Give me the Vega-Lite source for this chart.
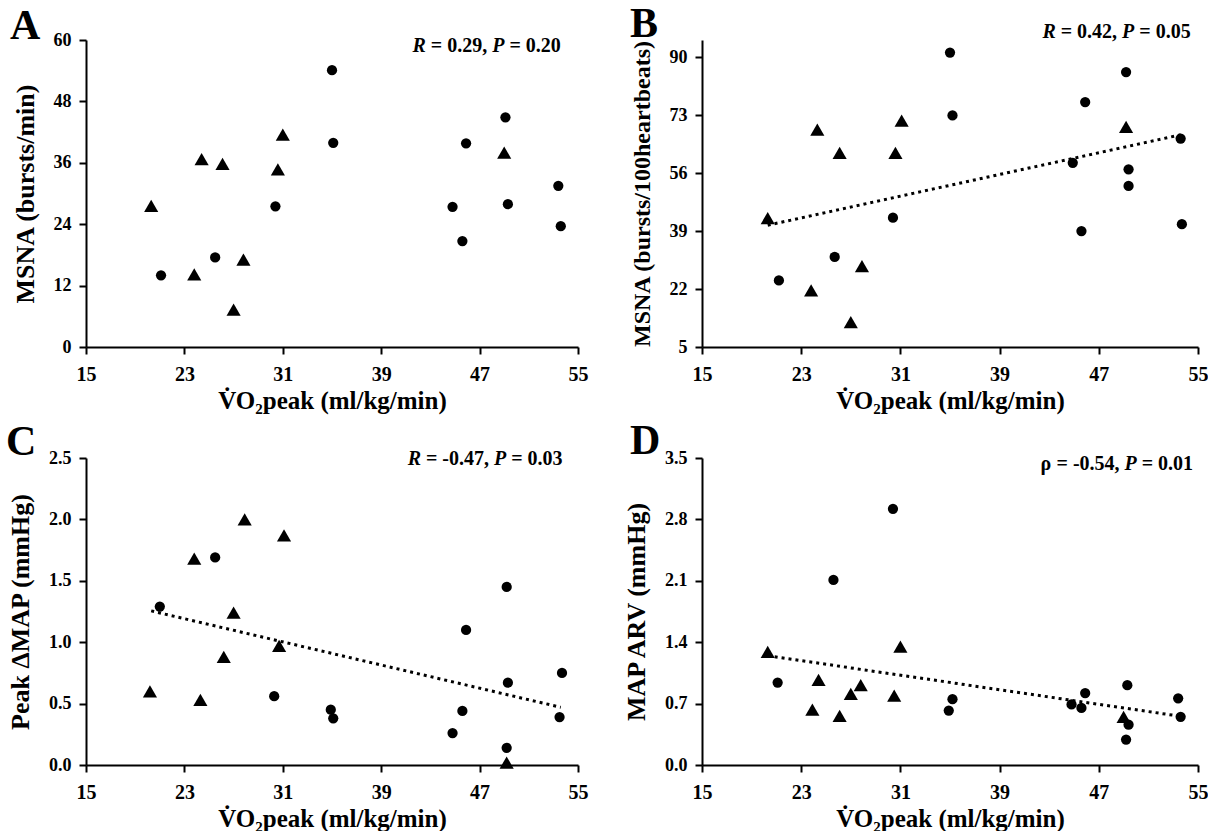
{
  "$schema": "https://vega.github.io/schema/vega-lite/v6.json",
  "background": "white",
  "padding": {"left": 6, "top": 2, "right": 0, "bottom": 0},
  "config": {
    "font": "Liberation Serif",
    "view": {"stroke": null},
    "axis": {"domainColor": "black", "domainWidth": 2, "tickColor": "black", "tickWidth": 2, "tickSize": 7, "grid": false,
      "labelFont": "Liberation Serif", "labelFontWeight": "bold", "labelColor": "black",
      "titleFont": "Liberation Serif", "titleFontWeight": "bold", "titleColor": "black",
      "labelFlush": false, "labelOverlap": false},
    "axisX": {"labelFontSize": 20, "titleFontSize": 25, "labelPadding": 10, "titlePadding": 4},
    "axisY": {"labelFontSize": 18, "titleFontSize": 26, "labelPadding": 8, "titlePadding": 15},
    "title": {"font": "Liberation Serif", "fontSize": 42, "fontWeight": "bold", "anchor": "start", "frame": "group", "baseline": "alphabetic", "color": "black"}
  },
  "datasets": {
    "pts": [
      {"panel": "A", "grp": "Group 1", "vo2": 35.0, "value": 54.1},
      {"panel": "A", "grp": "Group 1", "vo2": 35.1, "value": 39.9},
      {"panel": "A", "grp": "Group 1", "vo2": 30.4, "value": 27.5},
      {"panel": "A", "grp": "Group 1", "vo2": 21.1, "value": 14.0},
      {"panel": "A", "grp": "Group 1", "vo2": 25.5, "value": 17.5},
      {"panel": "A", "grp": "Group 1", "vo2": 44.8, "value": 27.4},
      {"panel": "A", "grp": "Group 1", "vo2": 45.6, "value": 20.7},
      {"panel": "A", "grp": "Group 1", "vo2": 45.9, "value": 39.8},
      {"panel": "A", "grp": "Group 1", "vo2": 49.1, "value": 44.9},
      {"panel": "A", "grp": "Group 1", "vo2": 49.3, "value": 27.9},
      {"panel": "A", "grp": "Group 1", "vo2": 53.4, "value": 31.5},
      {"panel": "A", "grp": "Group 1", "vo2": 53.6, "value": 23.6},
      {"panel": "A", "grp": "Group 2", "vo2": 20.3, "value": 27.6},
      {"panel": "A", "grp": "Group 2", "vo2": 23.8, "value": 14.2},
      {"panel": "A", "grp": "Group 2", "vo2": 24.4, "value": 36.7},
      {"panel": "A", "grp": "Group 2", "vo2": 26.1, "value": 35.8},
      {"panel": "A", "grp": "Group 2", "vo2": 27.0, "value": 7.3},
      {"panel": "A", "grp": "Group 2", "vo2": 27.8, "value": 17.1},
      {"panel": "A", "grp": "Group 2", "vo2": 30.6, "value": 34.7},
      {"panel": "A", "grp": "Group 2", "vo2": 31.0, "value": 41.5},
      {"panel": "A", "grp": "Group 2", "vo2": 49.0, "value": 38.0},

      {"panel": "B", "grp": "Group 1", "vo2": 35.0, "value": 91.3},
      {"panel": "B", "grp": "Group 1", "vo2": 35.2, "value": 72.9},
      {"panel": "B", "grp": "Group 1", "vo2": 30.4, "value": 42.9},
      {"panel": "B", "grp": "Group 1", "vo2": 21.2, "value": 24.5},
      {"panel": "B", "grp": "Group 1", "vo2": 25.7, "value": 31.4},
      {"panel": "B", "grp": "Group 1", "vo2": 44.9, "value": 59.0},
      {"panel": "B", "grp": "Group 1", "vo2": 45.6, "value": 39.0},
      {"panel": "B", "grp": "Group 1", "vo2": 45.9, "value": 76.8},
      {"panel": "B", "grp": "Group 1", "vo2": 49.2, "value": 85.6},
      {"panel": "B", "grp": "Group 1", "vo2": 49.4, "value": 57.1},
      {"panel": "B", "grp": "Group 1", "vo2": 49.4, "value": 52.2},
      {"panel": "B", "grp": "Group 1", "vo2": 53.6, "value": 66.1},
      {"panel": "B", "grp": "Group 1", "vo2": 53.7, "value": 41.0},
      {"panel": "B", "grp": "Group 2", "vo2": 20.3, "value": 42.8},
      {"panel": "B", "grp": "Group 2", "vo2": 23.8, "value": 21.6},
      {"panel": "B", "grp": "Group 2", "vo2": 24.3, "value": 68.7},
      {"panel": "B", "grp": "Group 2", "vo2": 26.1, "value": 61.9},
      {"panel": "B", "grp": "Group 2", "vo2": 27.0, "value": 12.3},
      {"panel": "B", "grp": "Group 2", "vo2": 27.9, "value": 28.7},
      {"panel": "B", "grp": "Group 2", "vo2": 30.6, "value": 61.9},
      {"panel": "B", "grp": "Group 2", "vo2": 31.1, "value": 71.4},
      {"panel": "B", "grp": "Group 2", "vo2": 49.2, "value": 69.5},

      {"panel": "C", "grp": "Group 1", "vo2": 21.0, "value": 1.29},
      {"panel": "C", "grp": "Group 1", "vo2": 25.5, "value": 1.69},
      {"panel": "C", "grp": "Group 1", "vo2": 30.3, "value": 0.56},
      {"panel": "C", "grp": "Group 1", "vo2": 34.9, "value": 0.45},
      {"panel": "C", "grp": "Group 1", "vo2": 35.1, "value": 0.38},
      {"panel": "C", "grp": "Group 1", "vo2": 44.8, "value": 0.26},
      {"panel": "C", "grp": "Group 1", "vo2": 45.6, "value": 0.44},
      {"panel": "C", "grp": "Group 1", "vo2": 45.9, "value": 1.10},
      {"panel": "C", "grp": "Group 1", "vo2": 49.2, "value": 1.45},
      {"panel": "C", "grp": "Group 1", "vo2": 49.3, "value": 0.67},
      {"panel": "C", "grp": "Group 1", "vo2": 49.2, "value": 0.14},
      {"panel": "C", "grp": "Group 1", "vo2": 53.7, "value": 0.75},
      {"panel": "C", "grp": "Group 1", "vo2": 53.5, "value": 0.39},
      {"panel": "C", "grp": "Group 2", "vo2": 20.2, "value": 0.60},
      {"panel": "C", "grp": "Group 2", "vo2": 23.8, "value": 1.68},
      {"panel": "C", "grp": "Group 2", "vo2": 24.3, "value": 0.53},
      {"panel": "C", "grp": "Group 2", "vo2": 26.2, "value": 0.88},
      {"panel": "C", "grp": "Group 2", "vo2": 27.0, "value": 1.24},
      {"panel": "C", "grp": "Group 2", "vo2": 27.9, "value": 2.00},
      {"panel": "C", "grp": "Group 2", "vo2": 30.7, "value": 0.97},
      {"panel": "C", "grp": "Group 2", "vo2": 31.1, "value": 1.87},
      {"panel": "C", "grp": "Group 2", "vo2": 49.2, "value": 0.02},

      {"panel": "D", "grp": "Group 1", "vo2": 30.4, "value": 2.92},
      {"panel": "D", "grp": "Group 1", "vo2": 25.6, "value": 2.11},
      {"panel": "D", "grp": "Group 1", "vo2": 21.1, "value": 0.94},
      {"panel": "D", "grp": "Group 1", "vo2": 35.2, "value": 0.75},
      {"panel": "D", "grp": "Group 1", "vo2": 34.9, "value": 0.62},
      {"panel": "D", "grp": "Group 1", "vo2": 44.8, "value": 0.69},
      {"panel": "D", "grp": "Group 1", "vo2": 45.6, "value": 0.65},
      {"panel": "D", "grp": "Group 1", "vo2": 45.9, "value": 0.82},
      {"panel": "D", "grp": "Group 1", "vo2": 49.3, "value": 0.91},
      {"panel": "D", "grp": "Group 1", "vo2": 49.4, "value": 0.46},
      {"panel": "D", "grp": "Group 1", "vo2": 49.2, "value": 0.29},
      {"panel": "D", "grp": "Group 1", "vo2": 53.4, "value": 0.76},
      {"panel": "D", "grp": "Group 1", "vo2": 53.6, "value": 0.55},
      {"panel": "D", "grp": "Group 2", "vo2": 20.3, "value": 1.29},
      {"panel": "D", "grp": "Group 2", "vo2": 23.9, "value": 0.63},
      {"panel": "D", "grp": "Group 2", "vo2": 24.4, "value": 0.97},
      {"panel": "D", "grp": "Group 2", "vo2": 26.1, "value": 0.56},
      {"panel": "D", "grp": "Group 2", "vo2": 27.0, "value": 0.81},
      {"panel": "D", "grp": "Group 2", "vo2": 27.8, "value": 0.91},
      {"panel": "D", "grp": "Group 2", "vo2": 30.5, "value": 0.79},
      {"panel": "D", "grp": "Group 2", "vo2": 31.0, "value": 1.35},
      {"panel": "D", "grp": "Group 2", "vo2": 49.0, "value": 0.55}
    ],
    "trend": [
      {"panel": "B", "vo2": 20.3, "value": 40.7},
      {"panel": "B", "vo2": 53.6, "value": 67.2},
      {"panel": "C", "vo2": 20.3, "value": 1.255},
      {"panel": "C", "vo2": 53.6, "value": 0.47},
      {"panel": "D", "vo2": 20.3, "value": 1.246},
      {"panel": "D", "vo2": 53.6, "value": 0.555}
    ]
  },
  "columns": 2,
  "spacing": {"row": 111, "column": 124},
  "bounds": "flush",
  "align": "each",
  "concat": [
    {
      "width": 492, "height": 307,
      "title": {"text": "A", "dx": -76, "offset": -17},
      "layer": [
        {"data": {"name": "pts"}, "transform": [{"filter": "datum.panel === 'A' && datum.grp === 'Group 1'"}],
         "mark": {"type": "point", "shape": "circle", "filled": true, "size": 105, "color": "black", "opacity": 1},
         "encoding": {
           "x": {"field": "vo2", "type": "quantitative", "scale": {"domain": [15, 55], "nice": false, "zero": false}, "axis": {"values": [15, 23, 31, 39, 47, 55], "title": "V̇O₂peak (ml/kg/min)"}},
           "y": {"field": "value", "type": "quantitative", "scale": {"domain": [0, 60], "nice": false}, "axis": {"values": [0, 12, 24, 36, 48, 60], "title": "MSNA (bursts/min)"}}}},
        {"data": {"name": "pts"}, "transform": [{"filter": "datum.panel === 'A' && datum.grp === 'Group 2'"}],
         "mark": {"type": "point", "shape": "triangle-up", "filled": true, "size": 200, "color": "black", "opacity": 1},
         "encoding": {"x": {"field": "vo2", "type": "quantitative"}, "y": {"field": "value", "type": "quantitative"}}},
        {"data": {"values": [{}]}, "mark": {"type": "text", "text": "R", "fontSize": 20, "fontWeight": "bold", "fontStyle": "italic", "align": "left", "baseline": "alphabetic", "color": "black", "dx": 0},
         "encoding": {"x": {"datum": 41.55, "type": "quantitative"}, "y": {"datum": 57.59, "type": "quantitative"}}},
        {"data": {"values": [{}]}, "mark": {"type": "text", "text": "= 0.29,", "fontSize": 20, "fontWeight": "bold", "align": "left", "baseline": "alphabetic", "color": "black", "dx": 18.3},
         "encoding": {"x": {"datum": 41.55, "type": "quantitative"}, "y": {"datum": 57.59, "type": "quantitative"}}},
        {"data": {"values": [{}]}, "mark": {"type": "text", "text": "P", "fontSize": 20, "fontWeight": "bold", "fontStyle": "italic", "align": "left", "baseline": "alphabetic", "color": "black", "dx": 79.7},
         "encoding": {"x": {"datum": 41.55, "type": "quantitative"}, "y": {"datum": 57.59, "type": "quantitative"}}},
        {"data": {"values": [{}]}, "mark": {"type": "text", "text": "= 0.20", "fontSize": 20, "fontWeight": "bold", "align": "left", "baseline": "alphabetic", "color": "black", "dx": 96.9},
         "encoding": {"x": {"datum": 41.55, "type": "quantitative"}, "y": {"datum": 57.59, "type": "quantitative"}}}
      ]
    },
    {
      "width": 496, "height": 307,
      "title": {"text": "B", "dx": -72, "offset": -24},
      "layer": [
        {"data": {"name": "trend"}, "transform": [{"filter": "datum.panel === 'B'"}],
         "mark": {"type": "line", "color": "black", "strokeWidth": 3, "strokeDash": [3, 4]},
         "encoding": {
           "x": {"field": "vo2", "type": "quantitative", "scale": {"domain": [15, 55], "nice": false, "zero": false}, "axis": {"values": [15, 23, 31, 39, 47, 55], "title": "V̇O₂peak (ml/kg/min)"}},
           "y": {"field": "value", "type": "quantitative", "scale": {"domain": [5, 95], "nice": false, "zero": false}, "axis": {"values": [5, 22, 39, 56, 73, 90], "title": "MSNA (bursts/100heartbeats)", "titleFontSize": 24}}}},
        {"data": {"name": "pts"}, "transform": [{"filter": "datum.panel === 'B' && datum.grp === 'Group 1'"}],
         "mark": {"type": "point", "shape": "circle", "filled": true, "size": 105, "color": "black", "opacity": 1},
         "encoding": {"x": {"field": "vo2", "type": "quantitative"}, "y": {"field": "value", "type": "quantitative"}}},
        {"data": {"name": "pts"}, "transform": [{"filter": "datum.panel === 'B' && datum.grp === 'Group 2'"}],
         "mark": {"type": "point", "shape": "triangle-up", "filled": true, "size": 200, "color": "black", "opacity": 1},
         "encoding": {"x": {"field": "vo2", "type": "quantitative"}, "y": {"field": "value", "type": "quantitative"}}},
        {"data": {"values": [{}]}, "mark": {"type": "text", "text": "R", "fontSize": 20, "fontWeight": "bold", "fontStyle": "italic", "align": "left", "baseline": "alphabetic", "color": "black", "dx": 0},
         "encoding": {"x": {"datum": 42.45, "type": "quantitative"}, "y": {"datum": 95.59, "type": "quantitative"}}},
        {"data": {"values": [{}]}, "mark": {"type": "text", "text": "= 0.42,", "fontSize": 20, "fontWeight": "bold", "align": "left", "baseline": "alphabetic", "color": "black", "dx": 18.3},
         "encoding": {"x": {"datum": 42.45, "type": "quantitative"}, "y": {"datum": 95.59, "type": "quantitative"}}},
        {"data": {"values": [{}]}, "mark": {"type": "text", "text": "P", "fontSize": 20, "fontWeight": "bold", "fontStyle": "italic", "align": "left", "baseline": "alphabetic", "color": "black", "dx": 79.7},
         "encoding": {"x": {"datum": 42.45, "type": "quantitative"}, "y": {"datum": 95.59, "type": "quantitative"}}},
        {"data": {"values": [{}]}, "mark": {"type": "text", "text": "= 0.05", "fontSize": 20, "fontWeight": "bold", "align": "left", "baseline": "alphabetic", "color": "black", "dx": 96.9},
         "encoding": {"x": {"datum": 42.45, "type": "quantitative"}, "y": {"datum": 95.59, "type": "quantitative"}}}
      ]
    },
    {
      "width": 492, "height": 307,
      "title": {"text": "C", "dx": -80, "offset": -15},
      "layer": [
        {"data": {"name": "trend"}, "transform": [{"filter": "datum.panel === 'C'"}],
         "mark": {"type": "line", "color": "black", "strokeWidth": 3, "strokeDash": [3, 4]},
         "encoding": {
           "x": {"field": "vo2", "type": "quantitative", "scale": {"domain": [15, 55], "nice": false, "zero": false}, "axis": {"values": [15, 23, 31, 39, 47, 55], "title": "V̇O₂peak (ml/kg/min)"}},
           "y": {"field": "value", "type": "quantitative", "scale": {"domain": [0, 2.5], "nice": false}, "axis": {"values": [0, 0.5, 1, 1.5, 2, 2.5], "format": ".1f", "title": "Peak ΔMAP (mmHg)"}}}},
        {"data": {"name": "pts"}, "transform": [{"filter": "datum.panel === 'C' && datum.grp === 'Group 1'"}],
         "mark": {"type": "point", "shape": "circle", "filled": true, "size": 105, "color": "black", "opacity": 1},
         "encoding": {"x": {"field": "vo2", "type": "quantitative"}, "y": {"field": "value", "type": "quantitative"}}},
        {"data": {"name": "pts"}, "transform": [{"filter": "datum.panel === 'C' && datum.grp === 'Group 2'"}],
         "mark": {"type": "point", "shape": "triangle-up", "filled": true, "size": 200, "color": "black", "opacity": 1},
         "encoding": {"x": {"field": "vo2", "type": "quantitative"}, "y": {"field": "value", "type": "quantitative"}}},
        {"data": {"values": [{}]}, "mark": {"type": "text", "text": "R", "fontSize": 20, "fontWeight": "bold", "fontStyle": "italic", "align": "left", "baseline": "alphabetic", "color": "black", "dx": 0},
         "encoding": {"x": {"datum": 41.15, "type": "quantitative"}, "y": {"datum": 2.445, "type": "quantitative"}}},
        {"data": {"values": [{}]}, "mark": {"type": "text", "text": "= -0.47,", "fontSize": 20, "fontWeight": "bold", "align": "left", "baseline": "alphabetic", "color": "black", "dx": 18.3},
         "encoding": {"x": {"datum": 41.15, "type": "quantitative"}, "y": {"datum": 2.445, "type": "quantitative"}}},
        {"data": {"values": [{}]}, "mark": {"type": "text", "text": "P", "fontSize": 20, "fontWeight": "bold", "fontStyle": "italic", "align": "left", "baseline": "alphabetic", "color": "black", "dx": 86.3},
         "encoding": {"x": {"datum": 41.15, "type": "quantitative"}, "y": {"datum": 2.445, "type": "quantitative"}}},
        {"data": {"values": [{}]}, "mark": {"type": "text", "text": "= 0.03", "fontSize": 20, "fontWeight": "bold", "align": "left", "baseline": "alphabetic", "color": "black", "dx": 103.5},
         "encoding": {"x": {"datum": 41.15, "type": "quantitative"}, "y": {"datum": 2.445, "type": "quantitative"}}}
      ]
    },
    {
      "width": 496, "height": 307,
      "title": {"text": "D", "dx": -72, "offset": -14},
      "layer": [
        {"data": {"name": "trend"}, "transform": [{"filter": "datum.panel === 'D'"}],
         "mark": {"type": "line", "color": "black", "strokeWidth": 3, "strokeDash": [3, 4]},
         "encoding": {
           "x": {"field": "vo2", "type": "quantitative", "scale": {"domain": [15, 55], "nice": false, "zero": false}, "axis": {"values": [15, 23, 31, 39, 47, 55], "title": "V̇O₂peak (ml/kg/min)"}},
           "y": {"field": "value", "type": "quantitative", "scale": {"domain": [0, 3.5], "nice": false}, "axis": {"values": [0, 0.7, 1.4, 2.1, 2.8, 3.5], "format": ".1f", "title": "MAP ARV (mmHg)"}}}},
        {"data": {"name": "pts"}, "transform": [{"filter": "datum.panel === 'D' && datum.grp === 'Group 1'"}],
         "mark": {"type": "point", "shape": "circle", "filled": true, "size": 105, "color": "black", "opacity": 1},
         "encoding": {"x": {"field": "vo2", "type": "quantitative"}, "y": {"field": "value", "type": "quantitative"}}},
        {"data": {"name": "pts"}, "transform": [{"filter": "datum.panel === 'D' && datum.grp === 'Group 2'"}],
         "mark": {"type": "point", "shape": "triangle-up", "filled": true, "size": 200, "color": "black", "opacity": 1},
         "encoding": {"x": {"field": "vo2", "type": "quantitative"}, "y": {"field": "value", "type": "quantitative"}}},
        {"data": {"values": [{}]}, "mark": {"type": "text", "text": "ρ", "fontSize": 20, "fontWeight": "bold", "align": "left", "baseline": "alphabetic", "color": "black", "dx": 0},
         "encoding": {"x": {"datum": 42.3, "type": "quantitative"}, "y": {"datum": 3.367, "type": "quantitative"}}},
        {"data": {"values": [{}]}, "mark": {"type": "text", "text": "= -0.54,", "fontSize": 20, "fontWeight": "bold", "align": "left", "baseline": "alphabetic", "color": "black", "dx": 16},
         "encoding": {"x": {"datum": 42.3, "type": "quantitative"}, "y": {"datum": 3.367, "type": "quantitative"}}},
        {"data": {"values": [{}]}, "mark": {"type": "text", "text": "P", "fontSize": 20, "fontWeight": "bold", "fontStyle": "italic", "align": "left", "baseline": "alphabetic", "color": "black", "dx": 84},
         "encoding": {"x": {"datum": 42.3, "type": "quantitative"}, "y": {"datum": 3.367, "type": "quantitative"}}},
        {"data": {"values": [{}]}, "mark": {"type": "text", "text": "= 0.01", "fontSize": 20, "fontWeight": "bold", "align": "left", "baseline": "alphabetic", "color": "black", "dx": 101.2},
         "encoding": {"x": {"datum": 42.3, "type": "quantitative"}, "y": {"datum": 3.367, "type": "quantitative"}}}
      ]
    }
  ]
}
